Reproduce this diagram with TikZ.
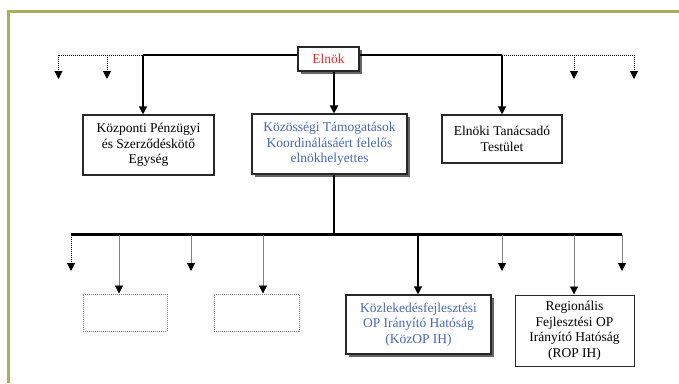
\documentclass[tikz,border=0pt]{standalone}
\usepackage{fontspec}
\setmainfont{Liberation Serif}
\usetikzlibrary{arrows.meta,shadows}
\definecolor{frameolive}{RGB}{168,176,96}
\definecolor{leadblue}{RGB}{72,104,190}
\definecolor{chiefred}{RGB}{240,40,40}
\definecolor{boxline}{RGB}{40,40,40}
\tikzset{
  unit/.style={draw=boxline, line width=1.1pt, fill=white, align=center,
    inner sep=0pt, font=\fontsize{13.5}{15.5}\selectfont},
  shadowed/.style={drop shadow={shadow xshift=3pt, shadow yshift=-3pt,
    fill=black!60, opacity=1}},
  blank/.style={draw=gray, densely dotted, line width=1pt, inner sep=0pt},
  tip/.style={-{Triangle[length=8pt,width=8pt,color=black]}},
  link/.style={line width=1.1pt},
  thick link/.style={line width=2pt},
  bar/.style={line width=2.6pt},
  dots/.style={densely dotted, line width=1pt},
  faint/.style={gray, line width=0.8pt},
}
\begin{document}
\begin{tikzpicture}[x=1pt,y=-1pt]
\useasboundingbox (0,0) rectangle (679,383);
% page frame
\draw[frameolive, line width=3pt] (8.5,383) -- (8.5,11.5) -- (679,11.5);

% top level
\node[unit, shadowed, minimum width=61pt, minimum height=24pt, text=chiefred]
  (elnok) at (328.5,59) {Elnök};
\node[unit, minimum width=131pt, minimum height=60pt]
  (kp) at (148.5,145) {Központi Pénzügyi\\és Szerződéskötő\\Egység};
\node[unit, shadowed, minimum width=155pt, minimum height=60pt, text=leadblue]
  (kt) at (329.5,144) {Közösségi Támogatások\\Koordinálásáért felelős\\elnökhelyettes};
\node[unit, minimum width=120pt, minimum height=48pt]
  (et) at (502,139) {Elnöki Tanácsadó\\Testület};

% second level
\node[blank, minimum width=84pt, minimum height=37pt] (b1) at (125,312.5) {};
\node[blank, minimum width=85pt, minimum height=37pt] (b2) at (256.5,312.5) {};
\node[unit, shadowed, minimum width=145pt, minimum height=59pt, text=leadblue]
  (koz) at (418.5,324.5) {Közlekedésfejlesztési\\OP Irányító Hatóság\\(KözOP IH)};
\node[unit, line width=1pt, minimum width=119pt, minimum height=71pt]
  (rop) at (574.5,330.5) {Regionális\\Fejlesztési OP\\Irányító Hatóság\\(ROP IH)};

% junction points on the upper line
\coordinate (u1) at (58.5,55);
\coordinate (u2) at (107,55);
\coordinate (u3) at (143,55);
\coordinate (u4) at (502,55);
\coordinate (u5) at (574,55);
\coordinate (u6) at (634,55);
\coordinate (ue1) at (58.5,79);
\coordinate (ue2) at (107,79);
\coordinate (ue5) at (574,79);
\coordinate (ue6) at (634,79);

\draw[link] (u3) -- (elnok.west |- u3);
\draw[link] (elnok.east |- u4) -- (u4);
\draw[dots] (u1) -- (u3);
\draw[dots] (u4) -- (u6);
\draw[dots, tip] (u1) -- (ue1);
\draw[dots, tip] (u2) -- (ue2);
\draw[dots, tip] (u5) -- (ue5);
\draw[dots, tip] (u6) -- (ue6);
\draw[link, tip] (u3) -- (u3 |- kp.north);
\draw[link, tip] (u4) -- (et.north);
\draw[thick link, tip] (elnok.south -| 334,0) -- (kt.north -| 334,0);

% lower bar
\coordinate (l0) at (71,234.5);
\coordinate (l1) at (119,234.5);
\coordinate (l2) at (191,234.5);
\coordinate (l3) at (263,234.5);
\coordinate (lc) at (334,234.5);
\coordinate (l4) at (418,234.5);
\coordinate (l5) at (502,234.5);
\coordinate (l6) at (574,234.5);
\coordinate (l7) at (622,234.5);
\coordinate (le0) at (71,271);
\coordinate (le2) at (191,271);
\coordinate (le5) at (502,271);
\coordinate (le7) at (622,271);

\draw[thick link, line width=2.4pt] (kt.south -| lc) -- (lc);
\draw[bar] (l0) -- (l7);
\draw[dots, tip] (l0) -- (le0);
\draw[faint, tip] (l1) -- (l1 |- b1.north);
\draw[faint, tip] (l2) -- (le2);
\draw[faint, tip] (l3) -- (l3 |- b2.north);
\draw[link, tip] (l4) -- (l4 |- koz.north);
\draw[faint, tip] (l5) -- (le5);
\draw[faint, tip] (l6) -- (l6 |- rop.north);
\draw[faint, tip] (l7) -- (le7);
\end{tikzpicture}
\end{document}
